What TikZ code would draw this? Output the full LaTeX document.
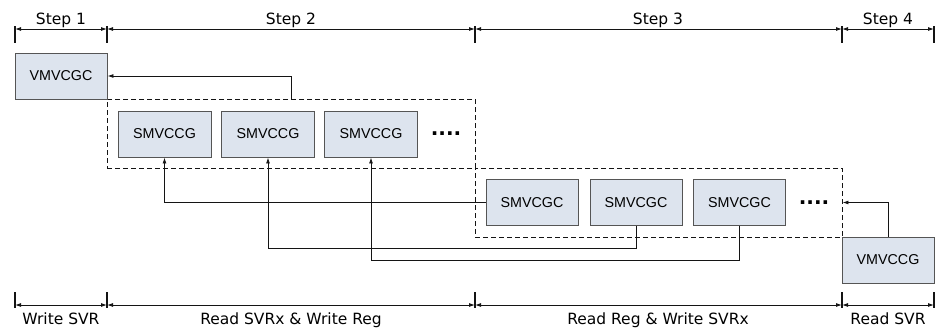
\documentclass[tikz,border=0pt]{standalone}
\usepackage{fontspec}
\setmainfont{DejaVu Sans}
\newfontfamily\boxfont{Liberation Sans}
\newfontfamily\dotfont{DejaVu Sans}
\usetikzlibrary{arrows.meta,calc}
\definecolor{boxfill}{RGB}{221,228,238}
\definecolor{boxline}{RGB}{85,85,85}
\definecolor{ink}{RGB}{20,20,20}
\tikzset{
  unit/.style={draw=boxline, fill=boxfill, line width=0.9pt, minimum width=92pt,
    minimum height=46pt, inner sep=0pt, font=\boxfont\fontsize{14.3}{16}\selectfont},
  group/.style={draw=ink, line width=0.9pt, dash pattern=on 5pt off 3pt,
    inner sep=0pt},
  link/.style={draw=ink, line width=0.9pt, -{Latex[length=6pt,width=4pt]}},
  span/.style={draw=ink, line width=0.9pt,
    {Latex[length=6pt,width=4pt]}-{Latex[length=6pt,width=4pt]}},
  tick/.style={draw=ink, line width=1.1pt},
  steplabel/.style={anchor=base, inner sep=0pt, font=\fontsize{15.5}{18}\selectfont},
  more/.style={inner sep=0pt, font=\dotfont\bfseries\fontsize{20}{20}\selectfont}
}
\begin{document}
\begin{tikzpicture}[x=1pt,y=-1pt]
\useasboundingbox (0,0) rectangle (938,330);

% phase boundaries
\foreach \n/\x in {0/15,1/107,2/475,3/842,4/934}{
  \coordinate (top\n) at (\x,29);
  \coordinate (bot\n) at (\x,305);
  \draw[tick] (\x,26) -- (\x,43);
  \draw[tick] (\x,292) -- (\x,308);
}
\foreach \a/\b in {0/1,1/2,2/3,3/4}{
  \draw[span] (top\a) -- (top\b);
  \draw[span] (bot\a) -- (bot\b);
}

% step titles and phase descriptions
\node[steplabel] (s1) at (61,24) {Step 1};
\node[steplabel] (s2) at (291,24) {Step 2};
\node[steplabel] (s3) at (658,24) {Step 3};
\node[steplabel] (s4) at (888,24) {Step 4};
\node[steplabel] (d1) at (61,324) {Write SVR};
\node[steplabel] (d2) at (291,324) {Read SVRx \& Write Reg};
\node[steplabel] (d3) at (658,324) {Read Reg \& Write SVRx};
\node[steplabel] (d4) at (888,324) {Read SVR};

% groups
\node[group, minimum width=368pt, minimum height=69pt] (g1) at (291,133.5) {};
\node[group, minimum width=367pt, minimum height=69pt] (g2) at (658.5,202.5) {};

% units
\node[unit] (vm1) at (61,76) {VMVCGC};
\node[unit, minimum width=93pt] (a1) at (164.5,134) {SMVCCG};
\node[unit, minimum width=93pt] (a2) at (268,134) {SMVCCG};
\node[unit, minimum width=93pt] (a3) at (371,134) {SMVCCG};
\node[more] (ma) at (446,134) {....};
\node[unit] (c1) at (532,202.5) {SMVCGC};
\node[unit] (c2) at (636,202.5) {SMVCGC};
\node[unit] (c3) at (739.5,202.5) {SMVCGC};
\node[more] (mc) at (814,202.5) {....};
\node[unit] (vm2) at (888,260) {VMVCCG};

% data flow
\draw[link] (g1.north) |- (vm1.east);
\draw[link] (vm2.north) |- (g2.east);
\draw[link] (c1.west) -| (a1.south);
\draw[link] (c2.south) -- (c2.south |- 0,248) -| (a2.south);
\draw[link] (c3.south) -- (c3.south |- 0,260) -| (a3.south);
\end{tikzpicture}
\end{document}
